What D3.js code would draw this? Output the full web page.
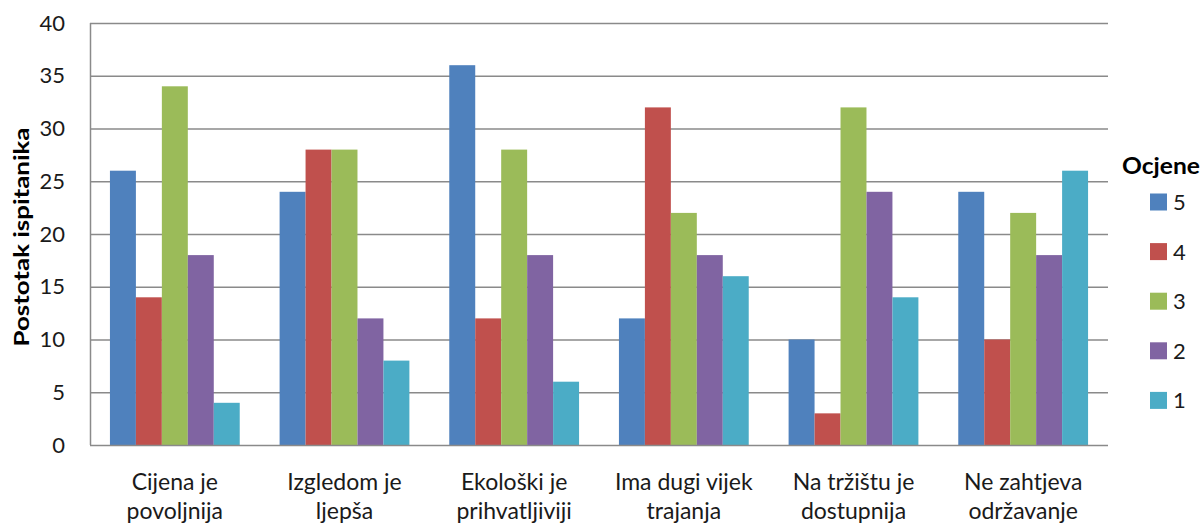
<!DOCTYPE html>
<html><head><meta charset="utf-8">
<script src="https://cdn.jsdelivr.net/npm/d3@7"></script>
<style>body{margin:0;background:#fff}svg{display:block}</style>
</head><body><svg id="c" width="1202" height="528"></svg>
<script>
const categories = [["Cijena je","povoljnija"],["Izgledom je","ljepša"],["Ekološki je","prihvatljiviji"],["Ima dugi vijek","trajanja"],["Na tržištu je","dostupnija"],["Ne zahtjeva","održavanje"]];
const seriesNames = ["5","4","3","2","1"];
const s5 = [26,24,36,12,10,24];
const s4 = [14,28,12,32,3,10];
const s3 = [34,28,28,22,32,22];
const s2 = [18,12,18,18,24,18];
const s1 = [4,8,6,16,14,26];
const seriesValues = [s5,s4,s3,s2,s1];
const colors = ["#4F81BD","#C0504D","#9BBB59","#8064A2","#4BACC6"];
const yTicks = [0,5,10,15,20,25,30,35,40];
const yTitle = "Postotak ispitanika";
const legendTitle = "Ocjene";

const svg = d3.select("#c");
const font = "Lato, 'Open Sans', sans-serif";
const L=90, R=1108, T=23, B=445;
const y = d3.scaleLinear().domain([0,40]).range([B,T]);
const x0 = d3.scaleBand().domain(d3.range(categories.length)).range([L,R]).paddingInner(0.235).paddingOuter(0.1175);
const x1 = d3.scaleBand().domain(d3.range(seriesNames.length)).range([0,x0.bandwidth()]);

// grid
svg.append("g").selectAll("line").data(yTicks.filter(d=>d>0)).join("line")
  .attr("x1",L).attr("x2",R).attr("y1",d=>y(d)+0.5).attr("y2",d=>y(d)+0.5)
  .attr("stroke","#8a8a8a").attr("stroke-width",1.3);

// bars
const g = svg.append("g");
seriesValues.forEach((vals,si)=>{
  g.append("g").selectAll("rect").data(vals).join("rect")
    .attr("x",(d,i)=>x0(i)+x1(si)).attr("width",x1.bandwidth())
    .attr("y",d=>y(d)).attr("height",d=>B-y(d))
    .attr("fill",colors[si]);
});

// axes lines
svg.append("line").attr("x1",L+0.5).attr("x2",L+0.5).attr("y1",T).attr("y2",B).attr("stroke","#8a8a8a").attr("stroke-width",1.5);
svg.append("line").attr("x1",L).attr("x2",R).attr("y1",B+0.5).attr("y2",B+0.5).attr("stroke","#8a8a8a").attr("stroke-width",1.5);

// y tick labels
svg.append("g").selectAll("text").data(yTicks).join("text")
  .attr("x",65).attr("y",d=>y(d)).attr("dy","0.35em").attr("text-anchor","end")
  .attr("font-family",font).attr("font-size",22).attr("fill","#1a1a1a").text(d=>d);

// x labels
const xl = svg.append("g").selectAll("text").data(categories).join("text")
  .attr("text-anchor","middle").attr("font-family",font).attr("font-size",23).attr("fill","#1a1a1a");
xl.each(function(d,i){
  const t=d3.select(this);
  d.forEach((line,k)=>t.append("tspan").attr("x",x0(i)+x0.bandwidth()/2).attr("y",490+k*29).text(line));
});

// y title
svg.append("text").attr("transform",`translate(29,${237}) rotate(-90)`)
  .attr("text-anchor","middle").attr("font-family",font).attr("font-weight","bold").attr("font-size",21)
  .attr("textLength",219).attr("lengthAdjust","spacingAndGlyphs").attr("fill","#000").text(yTitle);

// legend
svg.append("text").attr("x",1122).attr("y",174).attr("font-family",font).attr("font-weight","bold").attr("font-size",22)
  .attr("textLength",78).attr("lengthAdjust","spacingAndGlyphs").attr("fill","#000").text(legendTitle);
const lg = svg.append("g").selectAll("g").data(seriesNames).join("g")
  .attr("transform",(d,i)=>`translate(1150,${202+i*49.6})`);
lg.append("rect").attr("x",0).attr("y",-8.5).attr("width",17).attr("height",17).attr("fill",(d,i)=>colors[i]);
lg.append("text").attr("x",23).attr("y",0).attr("dy","0.36em").attr("font-family",font).attr("font-size",22).attr("fill","#1a1a1a").text(d=>d);
</script></body></html>
